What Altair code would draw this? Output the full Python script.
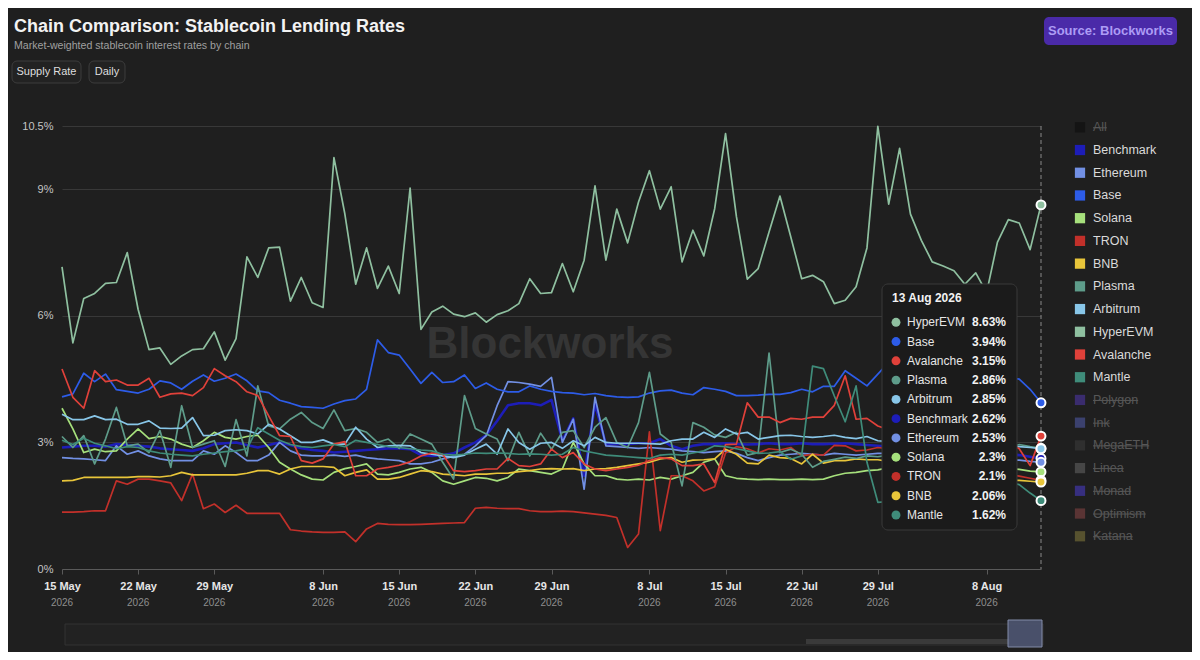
import altair as alt
import pandas as pd

# ---------------- data ----------------
START_DATE = "2026-05-15"

chains = ["Benchmark", "Ethereum", "Base", "Solana", "TRON", "BNB",
          "Plasma", "Arbitrum", "HyperEVM", "Avalanche", "Mantle"]
chain_colors = ["#1d1db8", "#7290e4", "#2d5ce8", "#a6e07c", "#c2302a", "#e8c53a",
                "#5e9c8a", "#88c6e8", "#8fc0a0", "#e0413a", "#3f8c7a"]

hyperevm = [7.16, 5.36, 6.41, 6.53, 6.77, 6.79, 7.50, 6.15, 5.20, 5.24,
            4.85, 5.05, 5.20, 5.22, 5.62, 4.95, 5.46, 7.40, 6.91, 7.61,
            7.63, 6.35, 6.91, 6.31, 6.20, 9.75, 8.42, 6.75, 7.61, 6.65,
            7.18, 6.53, 9.03, 5.68, 6.09, 6.23, 6.04, 5.98, 6.07, 5.85,
            6.03, 6.12, 6.29, 6.88, 6.53, 6.55, 7.24, 6.57, 7.32, 9.08,
            7.32, 8.53, 7.73, 8.70, 9.44, 8.53, 9.06, 7.28, 8.03, 7.42,
            8.54, 10.32, 8.35, 6.87, 7.12, 7.99, 8.84, 7.87, 6.88, 6.96,
            6.81, 6.29, 6.37, 6.69, 7.61, 10.49, 8.65, 9.97, 8.41, 7.79,
            7.28, 7.18, 7.07, 6.75, 7.02, 6.55, 7.75, 8.28, 8.20, 7.57,
            8.63]
base = [4.08, 4.15, 4.64, 4.44, 4.62, 4.25, 4.21, 4.17, 4.26, 4.46,
        4.41, 4.26, 4.45, 4.60, 4.45, 4.52, 4.62, 4.46, 4.22, 4.18,
        4.00, 3.93, 3.85, 3.83, 3.81, 3.91, 3.99, 4.03, 4.26, 5.43,
        5.13, 5.07, 4.74, 4.40, 4.66, 4.42, 4.44, 4.60, 4.28, 4.41,
        4.26, 4.20, 4.20, 4.34, 4.26, 4.21, 4.18, 4.17, 4.13, 4.16,
        4.11, 4.08, 4.07, 4.08, 4.17, 4.22, 4.24, 4.17, 4.13, 4.30,
        4.26, 4.21, 4.11, 4.11, 4.12, 4.14, 4.14, 4.18, 4.26, 4.20,
        4.33, 4.33, 4.70, 4.52, 4.34, 4.62, 4.90, 4.75, 4.68, 4.60,
        4.55, 4.50, 4.50, 4.45, 4.48, 4.50, 4.52, 4.54, 4.50, 4.26,
        3.94]
avalanche = [4.74, 4.07, 3.81, 4.70, 4.44, 4.48, 4.36, 4.36, 4.52, 4.07,
             4.15, 4.17, 4.11, 4.30, 4.75, 4.58, 4.44, 4.20, 4.11, 3.63,
             3.16, 3.14, 2.57, 2.51, 2.61, 2.96, 3.02, 2.21, 2.21, 2.37,
             2.41, 2.46, 2.54, 2.68, 2.75, 2.72, 2.33, 2.31, 2.33, 2.37,
             2.37, 2.62, 2.45, 2.43, 2.49, 2.84, 2.64, 2.76, 2.49, 2.37,
             2.33, 2.37, 2.41, 2.46, 2.57, 2.64, 2.61, 2.45, 2.45, 2.49,
             2.05, 2.95, 2.96, 3.94, 3.60, 3.60, 3.47, 3.57, 3.55, 3.60,
             3.60, 3.88, 4.58, 3.55, 3.57, 3.39, 3.30, 3.25, 3.30, 3.20,
             3.15, 3.10, 3.05, 3.00, 2.95, 3.00, 3.05, 3.00, 2.85, 2.45,
             3.15]
tron = [1.35, 1.35, 1.36, 1.38, 1.38, 2.09, 2.01, 2.13, 2.13, 2.09,
        2.04, 1.62, 2.25, 1.43, 1.54, 1.34, 1.51, 1.32, 1.32, 1.32,
        1.32, 0.93, 0.90, 0.88, 0.87, 0.87, 0.88, 0.65, 0.95, 1.08,
        1.06, 1.05, 1.05, 1.06, 1.07, 1.08, 1.09, 1.10, 1.44, 1.46,
        1.44, 1.43, 1.43, 1.38, 1.36, 1.36, 1.37, 1.36, 1.33, 1.30,
        1.27, 1.22, 0.51, 0.83, 3.25, 0.91, 2.21, 2.21, 2.09, 1.85,
        1.95, 2.75, 2.90, 2.85, 2.75, 2.85, 2.82, 2.88, 2.68, 2.72,
        2.70, 2.93, 2.92, 2.80, 2.82, 2.88, 2.85, 2.80, 2.75, 2.70,
        2.60, 2.50, 2.45, 2.40, 2.35, 2.30, 2.30, 2.25, 2.20, 2.15,
        2.10]
bnb = [2.09, 2.10, 2.17, 2.17, 2.17, 2.17, 2.17, 2.19, 2.19, 2.18,
       2.21, 2.29, 2.23, 2.23, 2.23, 2.23, 2.23, 2.27, 2.33, 2.33,
       2.25, 2.37, 2.43, 2.43, 2.43, 2.41, 2.21, 2.29, 2.35, 2.13,
       2.13, 2.17, 2.25, 2.33, 2.31, 2.25, 2.23, 2.21, 2.25, 2.25,
       2.27, 2.27, 2.31, 2.33, 2.37, 2.38, 2.37, 2.38, 2.33, 2.37,
       2.38, 2.41, 2.45, 2.49, 2.53, 2.61, 2.64, 2.53, 2.58, 2.59,
       2.61, 2.84, 2.72, 2.51, 2.49, 2.70, 2.64, 2.62, 2.49, 2.72,
       2.51, 2.57, 2.57, 2.61, 2.59, 2.59, 2.55, 2.50, 2.45, 2.40,
       2.35, 2.30, 2.25, 2.20, 2.20, 2.15, 2.12, 2.10, 2.10, 2.08,
       2.06]
solana = [3.81, 3.32, 2.76, 2.84, 2.78, 2.80, 3.08, 3.32, 3.09, 3.14,
          3.08, 2.96, 2.88, 3.04, 3.24, 3.12, 3.08, 3.14, 3.17, 2.88,
          2.53, 2.37, 2.23, 2.13, 2.11, 2.29, 2.38, 2.43, 2.49, 2.25,
          2.23, 2.29, 2.37, 2.41, 2.29, 2.09, 2.01, 2.09, 2.17, 2.15,
          2.09, 2.17, 2.37, 2.33, 2.29, 2.25, 2.37, 3.00, 2.49, 2.21,
          2.21, 2.13, 2.11, 2.13, 2.11, 2.17, 2.13, 2.21, 2.29, 2.53,
          2.61, 2.21, 2.15, 2.13, 2.12, 2.13, 2.12, 2.12, 2.13, 2.12,
          2.13, 2.21, 2.27, 2.29, 2.33, 2.35, 2.40, 2.45, 2.50, 2.55,
          2.60, 2.60, 2.55, 2.50, 2.45, 2.42, 2.40, 2.38, 2.36, 2.32,
          2.30]
arbitrum = [3.67, 3.54, 3.54, 3.63, 3.54, 3.55, 3.43, 3.43, 3.51, 3.34,
            3.33, 3.34, 3.59, 3.16, 3.17, 3.28, 3.30, 3.28, 3.20, 3.43,
            3.32, 3.16, 3.00, 3.00, 3.06, 2.96, 2.96, 3.36, 3.08, 2.88,
            2.92, 2.93, 2.92, 2.76, 2.72, 2.68, 2.64, 2.70, 2.84, 2.96,
            2.72, 3.32, 3.00, 2.84, 2.98, 3.00, 2.86, 3.04, 2.92, 3.12,
            3.00, 2.98, 2.98, 2.98, 2.97, 2.96, 3.04, 3.08, 3.08, 3.24,
            3.12, 3.32, 3.20, 3.24, 3.08, 3.12, 3.16, 3.17, 3.14, 3.12,
            3.14, 3.17, 3.12, 3.09, 3.14, 3.04, 3.02, 3.00, 3.02, 3.00,
            2.98, 2.97, 2.95, 2.95, 2.93, 2.92, 2.90, 2.90, 2.90, 2.88,
            2.85]
benchmark = [2.88, 2.90, 2.92, 2.92, 2.90, 2.96, 2.94, 2.92, 2.90, 2.86,
             2.84, 2.82, 2.80, 2.86, 2.96, 2.98, 3.00, 2.94, 2.88, 2.94,
             3.00, 2.94, 2.86, 2.82, 2.80, 2.76, 2.78, 2.80, 2.82, 2.84,
             2.86, 2.86, 2.84, 2.70, 2.68, 2.70, 2.74, 2.88, 3.00, 3.17,
             3.51, 3.88, 3.93, 3.93, 3.88, 4.01, 3.04, 3.57, 2.21, 3.91,
             2.96, 2.96, 2.96, 2.98, 2.98, 3.08, 2.92, 2.84, 2.92, 2.96,
             2.96, 2.98, 2.96, 2.95, 2.96, 2.98, 2.96, 2.96, 2.98, 2.96,
             2.96, 2.97, 2.98, 2.96, 2.94, 2.92, 2.90, 2.88, 2.88, 2.86,
             2.85, 2.84, 2.82, 2.80, 2.78, 2.76, 2.74, 2.72, 2.70, 2.66,
             2.62]
ethereum = [2.64, 2.62, 2.61, 2.59, 2.57, 2.92, 2.72, 2.80, 2.68, 2.61,
            2.57, 2.57, 2.57, 2.80, 2.72, 2.92, 2.76, 2.57, 2.57, 2.70,
            3.00, 2.80, 2.70, 2.68, 2.68, 2.70, 2.67, 2.70, 2.64, 2.61,
            2.59, 2.57, 2.49, 2.49, 2.53, 2.61, 2.67, 2.72, 2.92, 3.16,
            3.87, 4.44, 4.42, 4.38, 4.33, 4.54, 3.00, 3.55, 1.89, 4.07,
            2.92, 2.90, 2.88, 2.86, 2.88, 2.86, 2.84, 2.80, 2.78, 2.76,
            2.78, 2.80, 2.74, 2.64, 2.57, 2.64, 2.70, 2.72, 2.74, 2.72,
            2.70, 2.74, 2.72, 2.70, 2.72, 2.74, 2.74, 2.72, 2.70, 2.70,
            2.68, 2.66, 2.65, 2.64, 2.62, 2.60, 2.60, 2.58, 2.58, 2.55,
            2.53]
plasma = [3.14, 2.88, 3.16, 2.49, 3.08, 3.83, 2.92, 2.96, 2.76, 3.28,
          2.41, 3.87, 2.88, 2.96, 3.04, 2.43, 3.54, 2.68, 4.34, 3.39,
          3.32, 3.55, 3.71, 3.47, 3.33, 3.77, 3.28, 3.33, 3.24, 3.00,
          3.08, 2.86, 3.20, 3.08, 2.96, 2.53, 2.13, 4.11, 3.33, 3.20,
          3.08, 2.57, 3.24, 2.68, 3.22, 2.84, 3.24, 3.28, 2.88, 3.36,
          3.59, 3.00, 2.88, 3.47, 4.66, 3.20, 3.00, 1.97, 3.47, 3.36,
          3.18, 3.12, 3.24, 2.70, 2.76, 5.12, 2.76, 2.84, 2.72, 2.41,
          2.55, 2.60, 2.65, 2.62, 2.68, 2.66, 2.70, 2.72, 2.75, 2.78,
          2.80, 2.82, 2.82, 2.84, 2.85, 2.86, 2.86, 2.88, 2.95, 2.90,
          2.86]
mantle = [3.05, 2.95, 3.10, 2.98, 2.92, 2.85, 2.90, 2.88, 2.80, 2.75,
          2.72, 2.70, 2.68, 2.72, 2.75, 2.78, 2.80, 2.85, 3.35, 3.20,
          3.05, 2.95, 2.90, 2.88, 2.92, 2.95, 2.90, 3.05, 3.00, 2.95,
          2.90, 2.88, 2.85, 2.82, 2.80, 2.72, 2.70, 2.72, 2.75, 2.74,
          2.75, 2.74, 2.72, 2.73, 2.72, 2.70, 2.72, 2.88, 2.80, 2.75,
          2.70, 2.68, 2.66, 2.64, 2.62, 2.70, 2.72, 2.70, 2.75, 2.80,
          2.92, 2.90, 2.85, 2.80, 2.74, 2.75, 2.78, 2.60, 2.68, 4.81,
          4.75, 4.10, 3.49, 4.34, 2.53, 1.58, 1.60, 1.65, 1.70, 1.75,
          1.80, 1.82, 1.85, 1.85, 1.90, 1.95, 2.00, 2.05, 2.00, 1.80,
          1.62]

series = {"Benchmark": benchmark, "Ethereum": ethereum, "Base": base, "Solana": solana,
          "TRON": tron, "BNB": bnb, "Plasma": plasma, "Arbitrum": arbitrum,
          "HyperEVM": hyperevm, "Avalanche": avalanche, "Mantle": mantle}

tick_days = [0, 7, 14, 24, 31, 38, 45, 54, 61, 68, 75, 85]
tick_labels = ["15 May", "22 May", "29 May", "8 Jun", "15 Jun", "22 Jun",
               "29 Jun", "8 Jul", "15 Jul", "22 Jul", "29 Jul", "8 Aug"]
tick_year = "2026"
y_ticks = [0, 3, 6, 9, 10.5]

legend_names = ["All", "Benchmark", "Ethereum", "Base", "Solana", "TRON", "BNB", "Plasma",
                "Arbitrum", "HyperEVM", "Avalanche", "Mantle", "Polygon", "Ink", "MegaETH",
                "Linea", "Monad", "Optimism", "Katana"]
legend_off_colors = {"All": "#141414", "Polygon": "#3a2c6e", "Ink": "#3b416e", "MegaETH": "#2f2f2f",
                     "Linea": "#464646", "Monad": "#372f80", "Optimism": "#5a3434", "Katana": "#57522f"}

title_text = "Chain Comparison: Stablecoin Lending Rates"
subtitle_text = "Market-weighted stablecoin interest rates by chain"
button_texts = ["Supply Rate", "Daily"]
source_text = "Source: Blockworks"
watermark_text = "Blockworks"

# ---------------- frames ----------------
FONT = "Liberation Sans"
W, H = 979, 443
BG = "#1f1f1f"

# approximate Arial advance widths (em) for the strike-through length of hidden legend entries
ARIAL_EM = {"A": .667, "l": .222, "P": .667, "o": .556, "y": .5, "g": .556, "n": .556, "I": .278,
            "k": .5, "M": .833, "e": .556, "a": .556, "E": .667, "T": .611, "H": .722, "L": .556,
            "i": .222, "d": .556, "O": .778, "p": .556, "t": .278, "m": .833, "s": .5, "K": .667}


def text_width(s, size):
    return sum(ARIAL_EM.get(c, .556) for c in s) * size


rows = []
for name in chains:
    for d, v in enumerate(series[name]):
        rows.append({"day": d, "chain": name, "value": v})
df = pd.DataFrame(rows)

last_day = max(len(v) for v in series.values()) - 1
last = pd.DataFrame([{"day": len(series[n]) - 1, "chain": n, "value": series[n][-1]} for n in chains])

tip = last.sort_values("value", ascending=False).reset_index(drop=True)
tip["label"] = [f"{v:.2f}".rstrip("0").rstrip(".") + "%" for v in tip["value"]]
tip_title = (pd.Timestamp(START_DATE) + pd.Timedelta(days=last_day)).strftime("%d %b %Y").lstrip("0")

one = pd.DataFrame({"k": [0]})

x_scale = alt.Scale(domain=[0, last_day], nice=False, zero=False)
y_scale = alt.Scale(domain=[0, 10.5], nice=False, zero=True)
color_scale = alt.Scale(domain=chains, range=chain_colors)

label_expr = ("[" + ",".join(f"'{l}'" for l in tick_labels) + "][indexof(["
              + ",".join(str(d) for d in tick_days) + "], datum.value)]")


def label(text, x, y, size=12, color="#e6e6e6", weight="normal", align="left", baseline="middle"):
    return alt.Chart(one).mark_text(
        text=text, font=FONT, fontSize=size, fontWeight=weight, color=color,
        align=align, baseline=baseline).encode(x=alt.value(x), y=alt.value(y))


def box(x1, x2, y1, y2, **kw):
    return alt.Chart(one).mark_rect(**kw).encode(
        x=alt.value(x1), x2=alt.value(x2), y=alt.value(y1), y2=alt.value(y2))


# ---------------- layers ----------------
layers = []
layers.append(label(watermark_text, 488, 219, size=44, color="#353535", weight="bold", align="center"))

lines = alt.Chart(df).mark_line(strokeJoin="round").encode(
    x=alt.X("day:Q", scale=x_scale, axis=alt.Axis(
        values=tick_days, labelExpr=label_expr, grid=False, domainColor="#5a5a5a",
        tickColor="#5a5a5a", tickSize=5, labelColor="#e6e6e6", labelFont=FONT,
        labelFontSize=11, labelFontWeight="bold", labelPadding=6, title=None, labelFlush=False)),
    y=alt.Y("value:Q", scale=y_scale, axis=alt.Axis(
        values=y_ticks, labelExpr="datum.value + '%'", gridColor="#383838", domain=False,
        ticks=False, labelColor="#c4c4c4", labelFont=FONT, labelFontSize=11,
        labelPadding=9, title=None)),
    color=alt.Color("chain:N", scale=color_scale, legend=None),
    strokeWidth=alt.condition(alt.datum.chain == "Benchmark", alt.value(2.6), alt.value(1.7)),
)
layers.append(lines)

layers.append(alt.Chart(pd.DataFrame({"day": [last_day]})).mark_rule(
    color="#8a8a8a", strokeDash=[4, 3], strokeWidth=1
).encode(x=alt.X("day:Q", scale=x_scale)))

layers.append(alt.Chart(last).mark_circle(size=80, stroke="white", strokeWidth=2, opacity=1).encode(
    x=alt.X("day:Q", scale=x_scale),
    y=alt.Y("value:Q", scale=y_scale),
    fill=alt.Fill("chain:N", scale=color_scale, legend=None),
))

layers.append(alt.Chart(pd.DataFrame({"day": tick_days, "yr": [tick_year] * len(tick_days)})).mark_text(
    font=FONT, fontSize=10, color="#8e8e8e", baseline="middle"
).encode(x=alt.X("day:Q", scale=x_scale), y=alt.value(H + 34), text="yr:N"))

# tooltip panel
layers.append(box(820, 955, 158, 404, fill="#1b1b1b", stroke="#3a3a3a", strokeWidth=1, cornerRadius=6))
layers.append(label(tip_title, 830, 172, size=12, color="#f2f2f2", weight="bold"))
for i, r in tip.iterrows():
    ty = 196.3 + i * 19.27
    col = chain_colors[chains.index(r["chain"])]
    layers.append(alt.Chart(one).mark_circle(size=80, opacity=1, color=col).encode(
        x=alt.value(834), y=alt.value(ty)))
    layers.append(label(r["chain"], 845, ty, size=12, color="#e6e6e6"))
    layers.append(label(r["label"], 944, ty, size=12, color="#f2f2f2", weight="bold", align="right"))

# legend
for i, n in enumerate(legend_names):
    ly = 1.3 + i * 22.72
    active = n in chains
    col = chain_colors[chains.index(n)] if active else legend_off_colors[n]
    layers.append(alt.Chart(one).mark_square(size=105, opacity=1, color=col).encode(
        x=alt.value(1018), y=alt.value(ly)))
    layers.append(label(n, 1031, ly, size=12.5, color="#dadada" if active else "#575757"))
    if not active:
        layers.append(alt.Chart(one).mark_rule(color="#575757", strokeWidth=1).encode(
            x=alt.value(1031), x2=alt.value(1031 + text_width(n, 12.5)), y=alt.value(ly + 0.5)))

# header
layers.append(label(title_text, -48, -94, size=18, color="#f2f2f2", weight="bold", baseline="alphabetic"))
layers.append(label(subtitle_text, -48, -77, size=10.6, color="#a0a0a0", baseline="alphabetic"))
layers.append(box(-50, 19, -65, -43, fill="#222222", stroke="#3c3c3c", cornerRadius=5))
layers.append(box(27, 63, -65, -43, fill="#222222", stroke="#3c3c3c", cornerRadius=5))
layers.append(label(button_texts[0], -15.5, -54, size=11, color="#dedede", align="center"))
layers.append(label(button_texts[1], 45, -54, size=11, color="#dedede", align="center"))
layers.append(box(982, 1115, -109, -81, fill="#4a2aa8", cornerRadius=5))
layers.append(label(source_text, 1048.5, -95, size=13, color="#ad9cf5", weight="bold", align="center"))

# navigator strip
layers.append(box(3, 981, 498, 519, fill="#222222", stroke="#333333", strokeWidth=1))
layers.append(box(744, 948, 513, 518, fill="#3a3a3a"))
layers.append(box(946, 980, 494, 521, fill="#4e5672", stroke="#8e98b8", strokeWidth=1, opacity=0.9))

chart = alt.layer(*layers).properties(
    width=W, height=H, background=BG,
    padding={"left": 54, "top": 118, "right": 151, "bottom": 83},
    autosize=alt.AutoSizeParams(type="none"),
).configure_view(stroke=None)

chart.save("out.html", embed_options={"renderer": "svg", "actions": False})
